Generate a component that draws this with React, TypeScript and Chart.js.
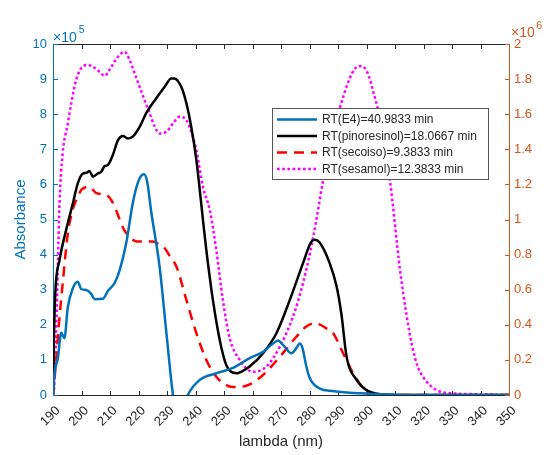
import React, { useEffect, useRef } from "react";
import { Chart, registerables } from "chart.js";

Chart.register(...registerables);

// ---- data (left axis units, x10^5) ----
const e4Lambda = [190, 190.5, 191.7, 192.9, 194, 195.2, 197, 198.7, 199.9, 201.7, 203.4, 204.6, 207.5, 209.3, 211.6, 213.4, 215.7, 218, 220, 221.9, 223, 224.5, 227.4, 229.8, 232.1, 234, 236, 237.3, 241.5, 247.3, 253.1, 259, 263.7, 267, 269, 271, 273.7, 275.5, 276.6, 277.5, 278.9, 280, 281.8, 284, 287.1, 292, 297.7, 305, 315, 350];
const e4Abs = [0, 0.6, 1.05, 1.77, 1.62, 2.5, 3.05, 3.23, 3.02, 2.99, 2.88, 2.73, 2.74, 2.97, 3.19, 3.56, 4.33, 5.47, 6.1, 6.29, 6.1, 5.2, 3.66, 1.76, 0, -0.8, -0.3, 0, 0.43, 0.62, 0.77, 1.05, 1.23, 1.45, 1.55, 1.4, 1.19, 1.35, 1.47, 1.35, 0.81, 0.5, 0.28, 0.17, 0.12, 0.08, 0.05, 0.02, 0, 0];

const pinoLambda = [190, 190.3, 190.8, 192.3, 194.6, 197, 198.7, 200.5, 201.7, 202.8, 204, 205.7, 206.9, 208.1, 209.2, 211, 212.8, 214.5, 216.3, 218, 220.4, 222.7, 226.2, 229.2, 231.5, 232.5, 235, 236.8, 238.5, 240.3, 241.5, 242.6, 243.8, 246.1, 248.5, 250.8, 252.5, 254.4, 256, 259, 263.7, 268.4, 273.1, 277.7, 280.5, 281.8, 283.5, 287.1, 289.5, 291.2, 293, 296.5, 300, 305, 310, 350];
const pinoAbs = [0, 1.5, 2.9, 3.85, 4.7, 5.47, 6.03, 6.31, 6.33, 6.38, 6.22, 6.31, 6.36, 6.52, 6.55, 6.84, 7.26, 7.38, 7.31, 7.36, 7.64, 8.03, 8.45, 8.78, 9.02, 9.02, 8.78, 8.31, 7.64, 6.7, 5.84, 5.0, 4.13, 2.71, 1.57, 0.85, 0.66, 0.62, 0.66, 0.81, 1.19, 1.76, 2.71, 3.75, 4.35, 4.42, 4.35, 3.75, 3.1, 2.3, 1.1, 0.43, 0.14, 0.02, 0, 0];

const secoLambda = [190, 191.1, 192.3, 193.4, 195.2, 197, 198.7, 199.9, 201.5, 202.8, 205.2, 208.7, 210.4, 212.8, 213.4, 215, 216.9, 218.5, 220.4, 225.1, 227, 229.2, 231, 233.3, 236.8, 240.3, 243.8, 247.3, 250.8, 253, 256.7, 259, 263.7, 269.6, 275.4, 278.9, 282, 285.9, 288.3, 291.8, 295.3, 300, 303, 310, 350];
const secoAbs = [0, 1.0, 2.23, 3.18, 4.6, 5.3, 5.65, 5.84, 5.92, 5.93, 5.75, 5.7, 5.56, 5.13, 4.99, 4.7, 4.51, 4.4, 4.37, 4.37, 4.3, 4.18, 3.95, 3.66, 2.71, 1.76, 1.0, 0.52, 0.28, 0.23, 0.24, 0.3, 0.57, 1.09, 1.66, 1.95, 2.05, 1.9, 1.76, 1.19, 0.62, 0.1, 0.02, 0, 0];

const sesaLambda = [190, 190.5, 191.1, 191.7, 192.3, 193.4, 195.2, 196.4, 198.1, 199.9, 202.2, 204, 206.3, 208.1, 209.8, 211.6, 213.4, 215.1, 216.9, 218.6, 220.4, 222.1, 223.9, 225.7, 227.4, 229.8, 232.1, 234.4, 236.8, 238.5, 240.3, 242.6, 245, 247.3, 249.6, 252, 255.5, 260.2, 264.9, 269.6, 274.2, 277.7, 281.3, 284.8, 287.5, 290.6, 294, 296, 298.3, 300.5, 302.5, 304.1, 308.2, 311.7, 314, 316, 318, 320, 322, 325, 330, 340, 350];
const sesaAbs = [0, 0.33, 1.76, 3.66, 5.5, 6.89, 7.74, 8.31, 8.97, 9.31, 9.4, 9.35, 9.21, 9.09, 9.26, 9.5, 9.69, 9.78, 9.54, 9.17, 8.78, 8.4, 8.03, 7.64, 7.45, 7.5, 7.74, 7.93, 7.83, 7.5, 6.98, 5.93, 5.27, 4.13, 2.71, 1.62, 1.0, 0.66, 0.81, 1.38, 2.23, 3.18, 4.5, 6.13, 7.3, 8.17, 9.0, 9.3, 9.37, 9.15, 8.6, 8.1, 6.13, 3.6, 2.3, 1.4, 0.8, 0.5, 0.3, 0.12, 0.05, 0.02, 0];

const seriesNames = [
  "RT(E4)=40.9833 min",
  "RT(pinoresinol)=18.0667 min",
  "RT(secoiso)=9.3833 min",
  "RT(sesamol)=12.3833 min",
];
const seriesColors = ["#0072BD", "#000000", "#FF0000", "#FF00FF"];
const seriesDash: number[][] = [[], [], [10, 7], [2.7, 2.5]];
const seriesWidth = [2.5, 2.5, 2.5, 2.5];

const xMin = 190, xMax = 350, xStep = 10;
const yLeftMax = 10, yLeftStep = 1;
const yRightMax = 2, yRightStep = 0.2;

const AXIS_DARK = "#262626";
const LEFT_COLOR = "#0072BD";
const RIGHT_COLOR = "#D95319";
const FONT = "Arial, 'Liberation Sans', Helvetica, sans-serif";

function toPoints(xs: number[], ys: number[]) {
  return xs.map((x, i) => ({ x, y: ys[i] }));
}

const framePlugin = {
  id: "frame",
  beforeDatasetsDraw(chart: any) {
    const { ctx, chartArea } = chart;
    const { left, right, top, bottom } = chartArea;
    const x = chart.scales.x, y = chart.scales.y, y2 = chart.scales.y2;
    const L = Math.round(left) + 0.5, R = Math.round(right) + 0.5;
    const T = Math.round(top) + 0.5, B = Math.round(bottom) + 0.5;
    const tl = 4.5;
    ctx.save();
    ctx.lineWidth = 1;
    ctx.strokeStyle = AXIS_DARK;
    ctx.beginPath();
    ctx.moveTo(L, B); ctx.lineTo(R, B);
    ctx.moveTo(L, T); ctx.lineTo(R, T);
    for (let v = xMin; v <= xMax + 1e-9; v += xStep) {
      const px = Math.round(x.getPixelForValue(v)) + 0.5;
      ctx.moveTo(px, B); ctx.lineTo(px, B - tl);
      ctx.moveTo(px, T); ctx.lineTo(px, T + tl);
    }
    ctx.stroke();
    ctx.strokeStyle = LEFT_COLOR;
    ctx.beginPath();
    ctx.moveTo(L, T); ctx.lineTo(L, B);
    for (let v = 0; v <= yLeftMax + 1e-9; v += yLeftStep) {
      const py = Math.round(y.getPixelForValue(v)) + 0.5;
      ctx.moveTo(L, py); ctx.lineTo(L + tl, py);
    }
    ctx.stroke();
    ctx.strokeStyle = RIGHT_COLOR;
    ctx.beginPath();
    ctx.moveTo(R, T); ctx.lineTo(R, B);
    for (let i = 0; i <= Math.round(yRightMax / yRightStep); i++) {
      const py = Math.round(y2.getPixelForValue(i * yRightStep)) + 0.5;
      ctx.moveTo(R, py); ctx.lineTo(R - tl, py);
    }
    ctx.stroke();
    ctx.restore();
  },
  afterDraw(chart: any) {
    const { ctx, chartArea } = chart;
    const { left, right, top } = chartArea;
    ctx.save();
    ctx.textBaseline = "alphabetic";
    ctx.textAlign = "left";
    ctx.fillStyle = LEFT_COLOR;
    ctx.font = `14px ${FONT}`;
    const lx = left;
    ctx.fillText("\u00D710", lx, top - 2.5);
    const lw = ctx.measureText("\u00D710").width;
    ctx.font = `10.5px ${FONT}`;
    ctx.fillText("5", lx + lw + 2, top - 11);
    ctx.fillStyle = RIGHT_COLOR;
    ctx.font = `14px ${FONT}`;
    const rx = right + 2;
    ctx.fillText("\u00D710", rx, top - 7);
    const rw = ctx.measureText("\u00D710").width;
    ctx.font = `10.5px ${FONT}`;
    ctx.fillText("6", rx + rw + 1.5, top - 15);

    const bx = 272.5, by = 108.5, bw = 216, bh = 71;
    ctx.fillStyle = "#ffffff";
    ctx.fillRect(bx, by, bw, bh);
    ctx.strokeStyle = "#555555";
    ctx.lineWidth = 1;
    ctx.strokeRect(bx, by, bw, bh);
    const rowY = [119.5, 136, 152.5, 169];
    ctx.font = `12px ${FONT}`;
    ctx.textBaseline = "middle";
    seriesNames.forEach((name, i) => {
      ctx.strokeStyle = seriesColors[i];
      ctx.lineWidth = seriesWidth[i];
      ctx.setLineDash(seriesDash[i]);
      ctx.beginPath();
      ctx.moveTo(277, rowY[i]);
      ctx.lineTo(317, rowY[i]);
      ctx.stroke();
      ctx.setLineDash([]);
      ctx.fillStyle = AXIS_DARK;
      ctx.fillText(name, 322, rowY[i] + 0.5);
    });
    ctx.restore();
  },
};

export default function App() {
  const ref = useRef<HTMLCanvasElement | null>(null);
  useEffect(() => {
    if (!ref.current) return;
    const lambdas = [e4Lambda, pinoLambda, secoLambda, sesaLambda];
    const values = [e4Abs, pinoAbs, secoAbs, sesaAbs];
    const chart = new Chart(ref.current, {
      type: "line",
      data: {
        datasets: seriesNames.map((name, i) => ({
          label: name,
          data: toPoints(lambdas[i], values[i]),
          borderColor: seriesColors[i],
          backgroundColor: seriesColors[i],
          borderWidth: seriesWidth[i],
          borderDash: seriesDash[i],
          borderCapStyle: "butt",
          pointRadius: 0,
          fill: false,
          cubicInterpolationMode: "monotone",
          yAxisID: "y",
        })),
      },
      options: {
        animation: false,
        responsive: false,
        devicePixelRatio: 1,
        layout: { padding: { top: 44, left: 0, right: 0, bottom: 0 } },
        plugins: { legend: { display: false }, tooltip: { enabled: false } },
        scales: {
          x: {
            type: "linear",
            position: "bottom",
            min: xMin,
            max: xMax,
            grid: { display: false, drawTicks: false },
            border: { display: false },
            ticks: {
              stepSize: xStep,
              minRotation: 45,
              maxRotation: 45,
              autoSkip: false,
              padding: 8,
              labelOffset: 5,
              color: AXIS_DARK,
              font: { size: 13, family: FONT },
            },
            title: {
              display: true,
              text: "lambda (nm)",
              color: AXIS_DARK,
              font: { size: 15, family: FONT },
              padding: { top: 0, bottom: 4 },
            },
            afterFit: (s: any) => { s.height = 60; },
          },
          y: {
            type: "linear",
            position: "left",
            min: 0,
            max: yLeftMax,
            grid: { display: false, drawTicks: false },
            border: { display: false },
            ticks: {
              stepSize: yLeftStep,
              padding: 6,
              color: LEFT_COLOR,
              font: { size: 13, family: FONT },
            },
            title: {
              display: true,
              text: "Absorbance",
              color: LEFT_COLOR,
              font: { size: 15, family: FONT },
              padding: { top: 12, bottom: 0 },
            },
            afterFit: (s: any) => { s.width = 53; },
          },
          y2: {
            type: "linear",
            position: "right",
            min: 0,
            max: yRightMax,
            grid: { display: false, drawTicks: false },
            border: { display: false },
            ticks: {
              stepSize: yRightStep,
              padding: 5,
              color: RIGHT_COLOR,
              font: { size: 13, family: FONT },
              callback: (v: any) => String(Number(Number(v).toFixed(1))),
            },
            afterFit: (s: any) => { s.width = 39; },
          },
        },
      },
      plugins: [framePlugin],
    } as any);
    return () => chart.destroy();
  }, []);
  return (
    <div style={{ position: "fixed", left: 0, top: 0, width: 548, height: 455, background: "#fff" }}>
      <canvas ref={ref} width={548} height={455} style={{ width: 548, height: 455, display: "block" }} />
    </div>
  );
}
